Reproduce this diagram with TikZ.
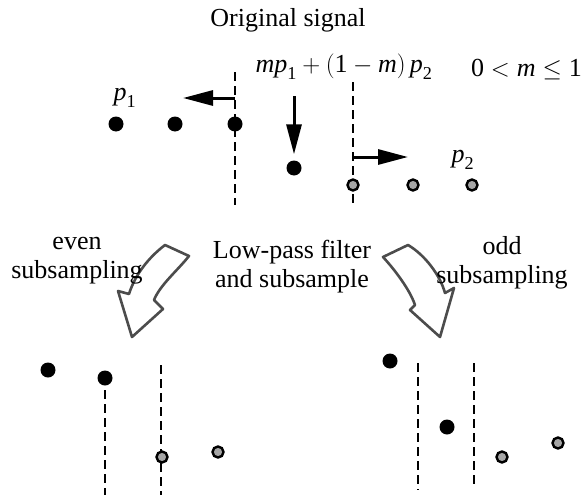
\documentclass[tikz,border=0pt]{standalone}
\usepackage{amsmath}
\usepackage{fontspec}
\setmainfont{Liberation Serif}
\usetikzlibrary{arrows.meta}

\begin{document}
\begin{tikzpicture}[x=1pt,y=-1pt,>={Triangle[length=30pt,width=15pt]},
  font=\fontsize{26}{29}\selectfont,
  dot/.style={circle,fill=black,inner sep=0pt,minimum size=15pt},
  gdot/.style={circle,fill=black!35,draw=black,line width=2.4pt,inner sep=0pt,minimum size=11pt},
  cut/.style={dash pattern=on 9pt off 5pt,line width=2.8pt},
  hollow/.style={draw=black!70,line width=2.6pt,line join=round}]
  \useasboundingbox (0,0) rectangle (583,495);
  % dashed cut lines
  \foreach \n/\x/\ya/\yb in {ta/235/72/205,tb/353/82/205,la/105/390/495,
      lb/161/365/495,ra/418/363/490,rb/474/363/487} {
    \coordinate (\n-top) at (\x,\ya);
    \coordinate (\n-bot) at (\x,\yb);
    \draw[cut] (\n-top)--(\n-bot);
  }
  % samples
  \foreach \n/\x/\y in {a1/116/124,a2/175/124,a3/235/124,m/294/168,
      l1/48/370,l2/105/378,r1/390/361,r2/447/427}
    \node[dot] (\n) at (\x,\y) {};
  \foreach \n/\x/\y in {b1/353/185,b2/413/185,b3/472/185,
      l3/162/457,l4/218/452,r3/502/457,r4/558/443}
    \node[gdot] (\n) at (\x,\y) {};
  % shift arrows
  \coordinate (sl) at (235,98);
  \coordinate (el) at (183,98);
  \coordinate (sr) at (353,157);
  \coordinate (er) at (408,157);
  \coordinate (sd) at (294,96);
  \draw[->,line width=3pt] (sl)--(el);
  \draw[->,line width=3pt] (sr)--(er);
  \draw[->,line width=3pt,shorten >=6pt] (sd)--(m.north);
  % hollow arrows
  \draw[hollow] (165,245)--(189,256) .. controls (178,270) and (160,285) .. (154,300)
    --(163,309)--(132,337)--(118,291)--(129,294)
    .. controls (135,275) and (148,258) .. cycle;
  \draw[hollow] (408,245)--(383,257) .. controls (395,270) and (410,290) .. (415,305)
    --(410,310)--(440,337)--(454,288)--(445,293)
    .. controls (440,275) and (425,255) .. cycle;
  % labels
  \node (orig) at (288,20) {Original signal};
  \node[anchor=base west] (mix) at (252,73)
    {$\textit{m}\textit{p}_{\text{1}}+(\text{1}-\textit{m})\,\textit{p}_{\text{2}}$};
  \node[anchor=base east,inner sep=1pt] (range) at (583,76) {$\text{0}<\textit{m}\le\text{1}$};
  \node (p1) at (125,98) {$\textit{p}_{\text{1}}$};
  \node (p2) at (463,160) {$\textit{p}_{\text{2}}$};
  \node[align=center] (even) at (77,261) {even\\subsampling};
  \node[align=center] (lpf) at (292,267) {Low-pass filter\\and subsample};
  \node[align=center] (odd) at (502,263) {odd\\subsampling};
\end{tikzpicture}
\end{document}
